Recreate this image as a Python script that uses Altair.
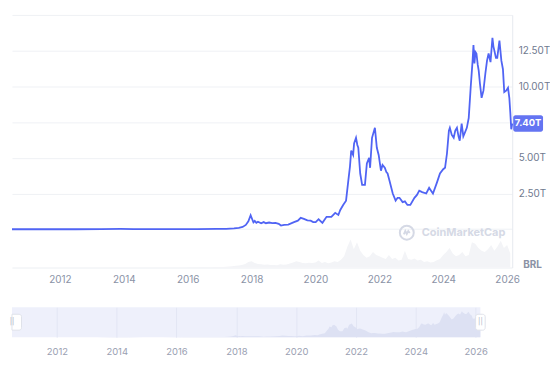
import altair as alt
import pandas as pd
from datetime import datetime, timedelta

# ---------------- data (market cap, trillions of BRL) ----------------
price_years = [
    2010.5, 2011.5, 2012.5, 2013.3, 2013.9, 2014.3, 2014.9, 2015.5, 2016.3, 2016.9,
    2017.2, 2017.45, 2017.6, 2017.72, 2017.82, 2017.9, 2017.97, 2018.02, 2018.06, 2018.1,
    2018.15, 2018.2, 2018.3, 2018.38, 2018.45, 2018.55, 2018.65, 2018.75, 2018.85, 2018.92,
    2019.02, 2019.15, 2019.33, 2019.45, 2019.54, 2019.64, 2019.75, 2019.85, 2019.93, 2020.01,
    2020.1, 2020.22, 2020.35, 2020.5, 2020.62, 2020.72, 2020.78, 2020.87, 2020.96, 2021.03,
    2021.08, 2021.12, 2021.18, 2021.21, 2021.27, 2021.31, 2021.34, 2021.4, 2021.46, 2021.55,
    2021.61, 2021.68, 2021.71, 2021.77, 2021.86, 2021.92, 2021.98, 2022.05, 2022.1, 2022.17,
    2022.22, 2022.26, 2022.32, 2022.42, 2022.51, 2022.57, 2022.63, 2022.73, 2022.8, 2022.88,
    2022.97, 2023.1, 2023.18, 2023.25, 2023.34, 2023.47, 2023.56, 2023.62, 2023.68, 2023.81,
    2023.9, 2024.0, 2024.06, 2024.12, 2024.18, 2024.21, 2024.27, 2024.33, 2024.38, 2024.43,
    2024.48, 2024.52, 2024.58, 2024.63, 2024.67, 2024.74, 2024.8, 2024.86, 2024.92, 2024.95,
    2024.98, 2025.01, 2025.04, 2025.08, 2025.11, 2025.15, 2025.2, 2025.26, 2025.32, 2025.37,
    2025.42, 2025.48, 2025.54, 2025.57, 2025.6, 2025.65, 2025.69, 2025.76, 2025.82, 2025.87,
    2025.91, 2025.97, 2026.03, 2026.07, 2026.1, 2026.13, 2026.16,
]
price_values = [
    0.0, 0.0, 0.0, 0.005, 0.02, 0.012, 0.008, 0.007, 0.012, 0.02,
    0.03, 0.06, 0.1, 0.16, 0.3, 0.55, 0.98, 0.7, 0.48, 0.58,
    0.45, 0.53, 0.42, 0.5, 0.42, 0.47, 0.43, 0.45, 0.38, 0.26,
    0.3, 0.33, 0.5, 0.6, 0.8, 0.73, 0.62, 0.6, 0.5, 0.5,
    0.7, 0.45, 0.87, 0.87, 1.15, 1.0, 1.35, 1.7, 2.0, 3.4,
    4.4, 5.5, 5.2, 6.0, 6.4, 5.9, 5.7, 3.9, 3.1, 3.1,
    4.6, 5.0, 4.3, 6.4, 7.1, 5.7, 5.2, 4.1, 4.5, 4.3,
    4.0, 3.9, 3.4, 2.5, 2.0, 2.2, 2.2, 1.9, 1.95, 1.7,
    1.7, 2.2, 2.4, 2.7, 2.6, 2.5, 2.9, 2.7, 2.5, 3.3,
    3.9, 4.2, 4.3, 5.3, 6.9, 7.1, 6.6, 6.4, 6.9, 7.1,
    6.5, 6.2, 7.4, 6.5, 6.7, 7.1, 7.8, 9.9, 11.8, 12.9,
    11.6, 12.4, 12.3, 11.5, 11.1, 10.2, 9.2, 9.7, 10.9, 11.8,
    12.3, 11.7, 13.4, 12.8, 12.5, 12.0, 12.0, 13.2, 11.8, 11.2,
    9.6, 9.7, 9.9, 9.2, 8.2, 7.0, 7.4,
]

volume_start = 2016.0
volume_step = 0.1
volume_values = [
    0.1, 0.1, 0.1, 0.1, 0.15, 0.15, 0.1, 0.1, 0.15, 0.15,
    0.2, 0.2, 0.3, 0.4, 0.5, 0.6, 0.7, 0.9, 1.3, 2.0,
    2.2, 1.6, 1.3, 1.2, 1.0, 1.1, 0.9, 0.9, 0.8, 1.2,
    1.0, 1.1, 1.4, 1.8, 2.2, 2.0, 1.6, 1.5, 1.7, 1.6,
    1.8, 2.5, 1.6, 2.0, 1.5, 1.8, 2.2, 2.0, 2.8, 4.0,
    7.5, 10.0, 6.5, 9.0, 6.0, 4.5, 3.5, 4.0, 5.5, 4.5,
    4.0, 3.5, 3.0, 4.5, 3.0, 3.5, 2.5, 2.8, 6.0, 3.0,
    2.8, 3.2, 2.5, 2.8, 2.0, 2.2, 1.8, 2.0, 2.6, 3.0,
    4.5, 5.5, 7.0, 5.0, 4.0, 4.5, 5.5, 4.0, 4.5, 9.0,
    8.5, 7.0, 6.0, 5.5, 6.5, 8.0, 6.0, 7.5, 9.5, 7.0,
    8.0, 5.0,
]

tick_years = [2012, 2014, 2016, 2018, 2020, 2022, 2024, 2026]
y_ticks = [0, 2.5, 5, 7.5, 10, 12.5, 15]
currency_label = "BRL"
watermark = "CoinMarketCap"
x_start, x_end = 2010.5, 2026.16


def dec_to_date(y):
    yr = int(y)
    return (datetime(yr, 1, 1) + timedelta(days=(y - yr) * 365.25)).strftime("%Y-%m-%d")


price_df = pd.DataFrame({"date": [dec_to_date(v) for v in price_years], "cap": price_values})
vol_df = pd.DataFrame({
    "date": [dec_to_date(volume_start + i * volume_step) for i in range(len(volume_values))],
    "vol": volume_values,
})
last_df = price_df.tail(1).assign(label=lambda d: d["cap"].map(lambda v: f"{v:.2f}T"))
handles_df = pd.DataFrame({"date": [dec_to_date(x_start), dec_to_date(x_end)],
                           "side": ["l", "r"], "t": ["||", "||"]})

FONT = "Inter"
W, H = 503, 254
NW, NH = 471, 30
BLUE = "#5064f4"

x_dom = [dec_to_date(x_start), dec_to_date(x_end)]
tick_vals = [f"{y}-01-01" for y in tick_years]

x_axis = alt.Axis(values=tick_vals, format="%Y", grid=False, ticks=False,
                  domain=True, domainColor="#eceff3", labelColor="#8a92a6",
                  labelFontSize=10, labelPadding=7, labelFont=FONT, title=None)
x_enc = alt.X("date:T", scale=alt.Scale(domain=x_dom, nice=False), axis=x_axis)
y_scale = alt.Scale(domain=[-2.68, 15], nice=False, zero=False)

label_expr = ("(datum.value==0||datum.value==7.5||datum.value>=15)?'':"
              "format(datum.value,'.2f')+'T'")
y_axis = alt.Axis(orient="right", values=y_ticks, labelExpr=label_expr,
                  grid=True, gridColor="#eff1f5", ticks=False, domain=True,
                  domainColor="#e6e9ef", labelColor="#6f7a8f", labelFontSize=10,
                  labelPadding=6, labelFont=FONT, title=None)

vol = alt.Chart(vol_df).mark_area(color="#f3f4f7", interpolate="linear").encode(
    x=x_enc,
    y=alt.Y("vol:Q", scale=alt.Scale(domain=[0, 90]), axis=None),
)

price = alt.Chart(price_df).mark_line(color=BLUE, strokeWidth=1.8, interpolate="linear").encode(
    x=x_enc,
    y=alt.Y("cap:Q", scale=y_scale, axis=y_axis),
)

badge_path = ("M-0.85,-0.55H0.85A0.15,0.15 0 0 1 1,-0.4V0.4A0.15,0.15 0 0 1 0.85,0.55"
              "H-0.85A0.15,0.15 0 0 1 -1,0.4V-0.4A0.15,0.15 0 0 1 -0.85,-0.55Z")
badge = alt.Chart(last_df).mark_point(shape=badge_path, filled=True, color="#6474f2",
                                      opacity=1, size=900).encode(
    x=alt.value(W + 16),
    y=alt.Y("cap:Q", scale=y_scale, axis=y_axis),
)
badge_text = alt.Chart(last_df).mark_text(color="white", fontSize=9.5, fontWeight="bold",
                                          font=FONT).encode(
    x=alt.value(W + 16),
    y=alt.Y("cap:Q", scale=y_scale, axis=y_axis),
    text="label:N",
)

wm_df = pd.DataFrame({"t": [watermark]})
wm_text = alt.Chart(wm_df).mark_text(color="#d5d9e5", fontSize=11, fontWeight="bold",
                                     font=FONT, align="left").encode(
    x=alt.value(412), y=alt.value(219), text="t:N")
wm_ring = alt.Chart(wm_df).mark_point(shape="circle", size=196, stroke="#d5d9e5",
                                      strokeWidth=2, filled=False, opacity=1).encode(
    x=alt.value(397), y=alt.value(219))
wm_wave = alt.Chart(wm_df).mark_point(
    shape="M-0.6,0.35L-0.3,-0.35L0,0.25L0.3,-0.35L0.6,0.05",
    size=100, stroke="#d5d9e5", strokeWidth=1.8, filled=False, opacity=1).encode(
    x=alt.value(397), y=alt.value(219))

cur_df = pd.DataFrame({"t": [currency_label]})
cur_text = alt.Chart(cur_df).mark_text(color="#8a92a5", fontSize=10, fontWeight="bold",
                                       font=FONT, align="left").encode(
    x=alt.value(W + 11), y=alt.value(H - 3), text="t:N")

main = alt.layer(
    vol,
    alt.layer(price, badge, badge_text),
    wm_ring, wm_wave, wm_text, cur_text,
).resolve_scale(y="independent").properties(
    width=W, height=H, view=alt.ViewBackground(stroke=None))

# ---------------- navigator ----------------
nx_axis = alt.Axis(values=tick_vals, format="%Y", grid=True, gridColor="#e3e6f4",
                   ticks=False, domain=False, labelColor="#9aa0b2", labelFontSize=9.5,
                   labelPadding=9, labelFont=FONT, title=None)
nx_enc = alt.X("date:T", scale=alt.Scale(domain=x_dom, nice=False), axis=nx_axis)
nav_area = alt.Chart(price_df).mark_area(color="#dde1f3", interpolate="linear").encode(
    x=nx_enc,
    y=alt.Y("cap:Q", scale=alt.Scale(domain=[0, 15.5]), axis=None),
)
left_handle = "M0,-1H0.9A0.3,0.3 0 0 1 1.2,-0.7V0.7A0.3,0.3 0 0 1 0.9,1H0Z"
right_handle = ("M-0.3,-1H0.3A0.3,0.3 0 0 1 0.6,-0.7V0.7A0.3,0.3 0 0 1 0.3,1H-0.3"
                "A0.3,0.3 0 0 1 -0.6,0.7V-0.7A0.3,0.3 0 0 1 -0.3,-1Z")
handle_shape = alt.Chart(handles_df).mark_point(filled=True, fill="white", stroke="#dfe2ea",
                                                strokeWidth=1, opacity=1, size=256).encode(
    x=nx_enc,
    y=alt.value(NH / 2),
    shape=alt.Shape("side:N", legend=None,
                    scale=alt.Scale(domain=["l", "r"], range=[left_handle, right_handle])),
)
handle_text = alt.Chart(handles_df).mark_text(color="#aab0c0", fontSize=7, font=FONT).encode(
    x=nx_enc,
    y=alt.value(NH / 2),
    xOffset=alt.XOffset("side:N", scale=alt.Scale(domain=["l", "r"], range=[5, 0])),
    text="t:N",
)

nav = alt.layer(nav_area, handle_shape, handle_text).properties(
    width=NW, height=NH, view=alt.ViewBackground(fill="#eef0fb", stroke=None))

chart = alt.vconcat(main, nav, spacing=40, bounds="flush").properties(
    padding={"left": 0, "top": 6, "right": 0, "bottom": 0}
).configure(font=FONT)

chart.save("out.html", embed_options={"renderer": "svg", "actions": False})
